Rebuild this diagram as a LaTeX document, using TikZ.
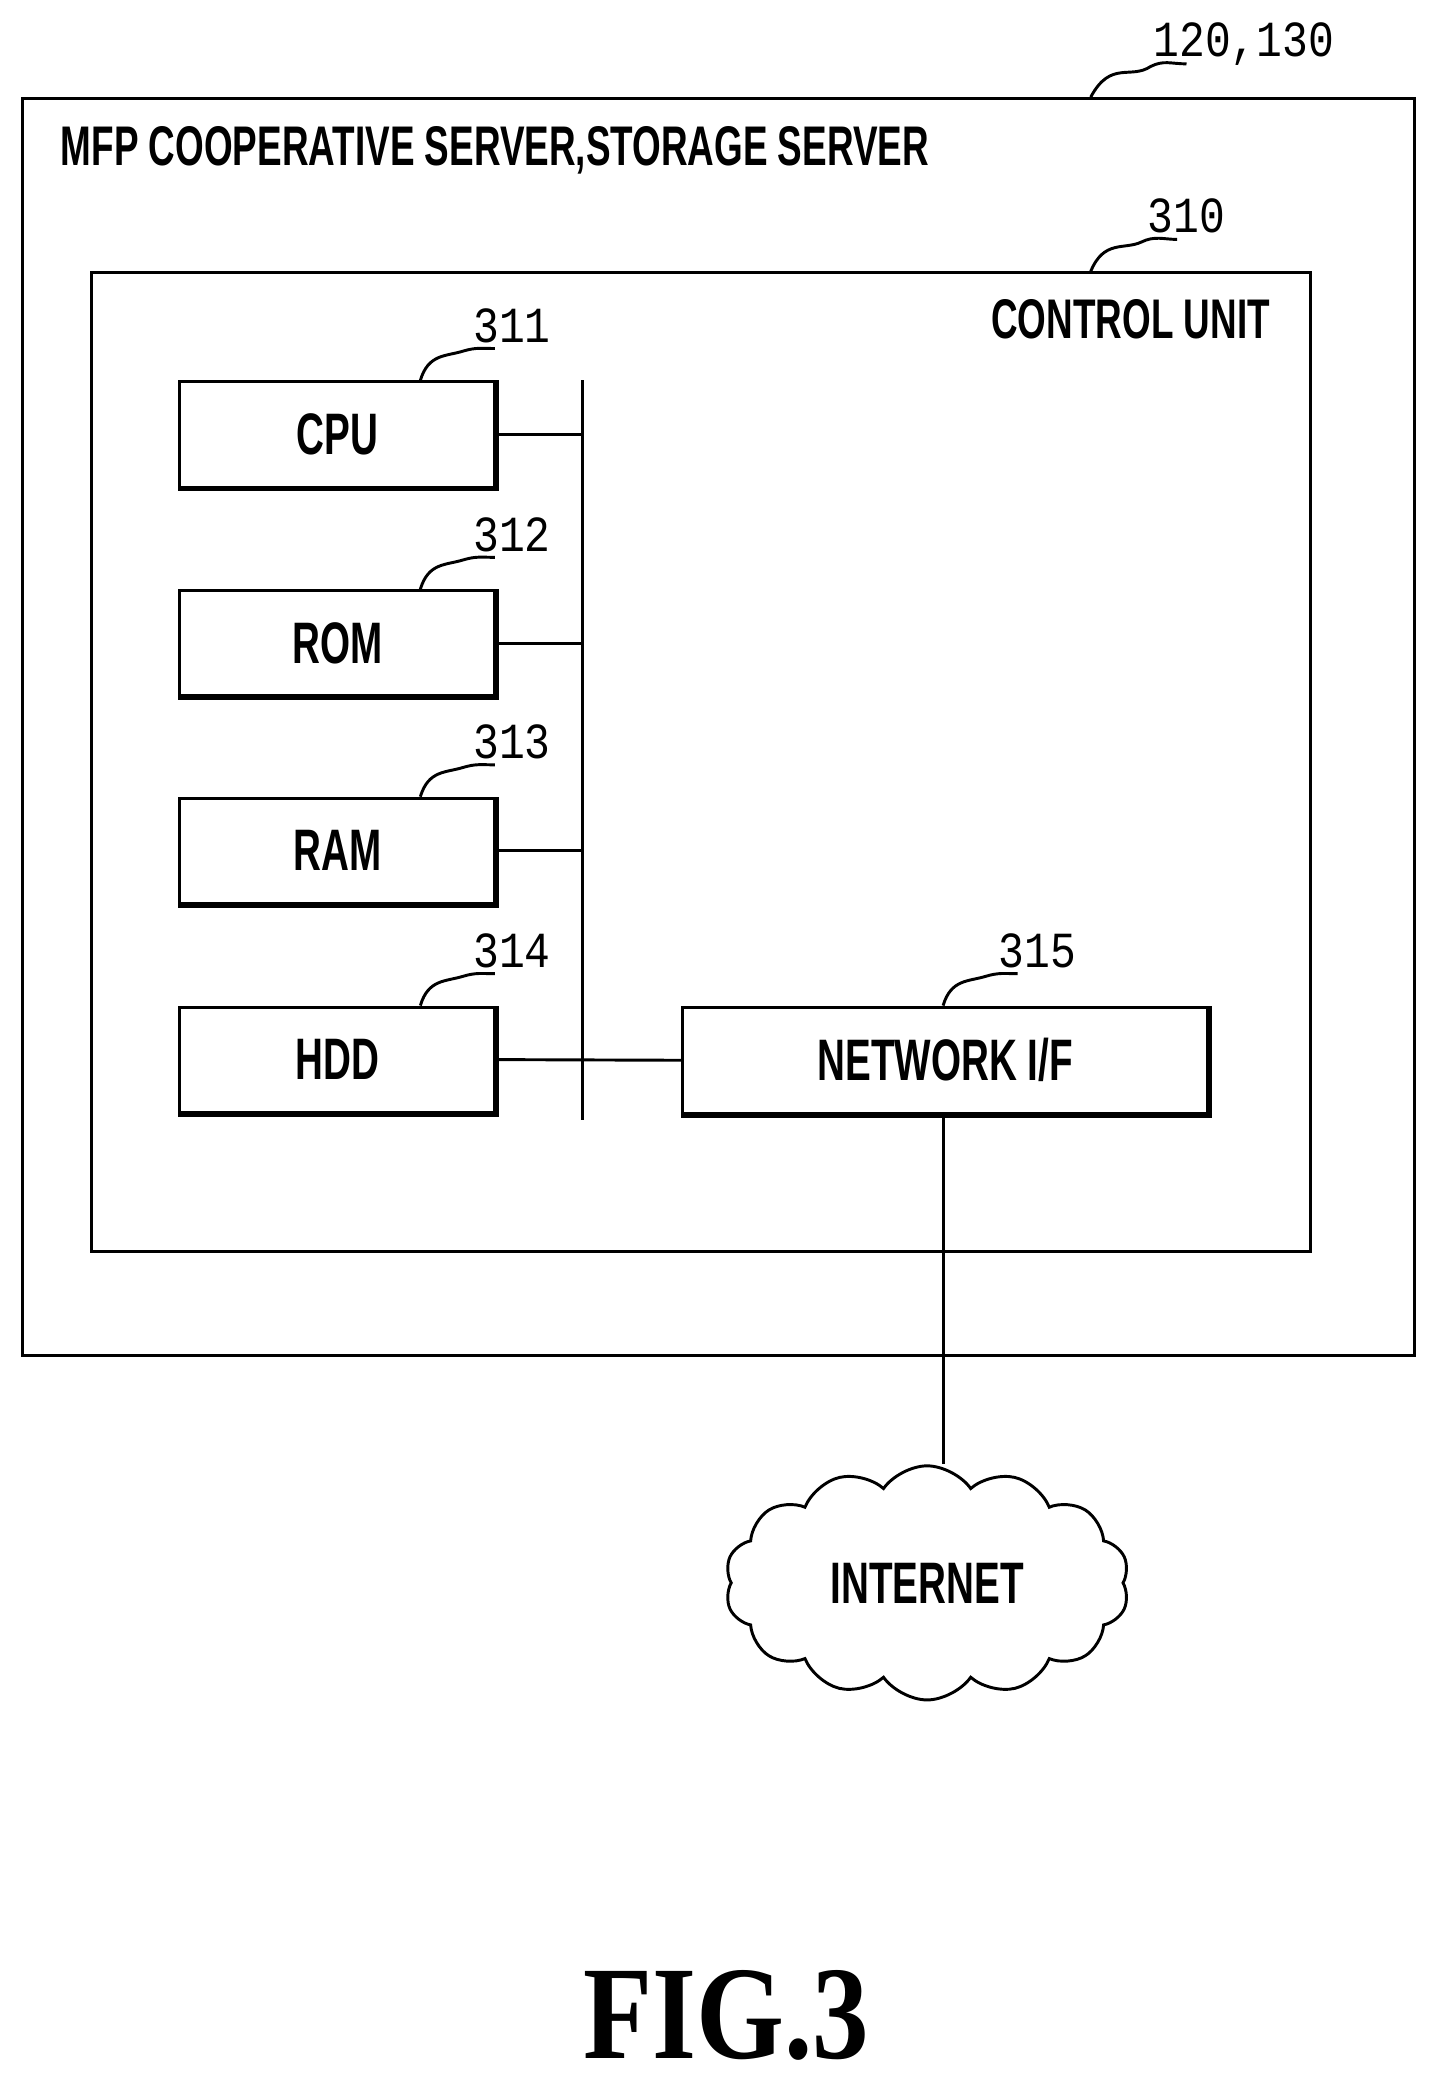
\documentclass[tikz,border=0pt]{standalone}
\usepackage{fontspec}
\setmainfont{Liberation Sans}
\newfontfamily\lab[FakeStretch=0.66]{Liberation Sans}
\newfontfamily\num[FakeStretch=0.85]{Liberation Mono}
\newfontfamily\fig[FakeStretch=0.85]{Liberation Serif}
\usetikzlibrary{shapes.symbols}
\begin{document}
\begin{tikzpicture}[x=0.5pt,y=-0.5pt,line width=1.1pt,
  blk/.style={draw,rectangle,anchor=north west,inner sep=0pt,font=\lab\fontsize{22}{22}\selectfont\bfseries},
  numl/.style={font=\num\fontsize{19}{19}\selectfont},
  ttl/.style={font=\lab\fontsize{21}{21}\selectfont\bfseries}]
\useasboundingbox (0,0) rectangle (1080,1569);
\node[draw,anchor=north west,minimum width=523pt,minimum height=472.5pt] (outer) at (16,73) {};
\node[draw,anchor=north west,minimum width=458pt,minimum height=368pt] (ctrl) at (68,204) {};
\node[ttl,anchor=west] (t1) at (38,113) {MFP COOPERATIVE SERVER,STORAGE SERVER};
\node[ttl] (t2) at (850,240) {CONTROL UNIT};
\node[numl] (n0) at (935,33) {120,130};
\node[numl] (n1) at (892,162) {310};
\draw (820,73) .. controls (835,45) and (850,60) .. (865,50) .. controls (875,45) and (880,48) .. (892,48);
\draw (820,204) .. controls (830,180) and (845,188) .. (858,182) .. controls (868,177) and (875,180) .. (885,180);
\foreach \nm/\txt/\y/\n in {cpu/CPU/286/311,rom/ROM/443/312,ram/RAM/599/313,hdd/HDD/756/314}{
  \node[blk,minimum width=118.5pt,minimum height=39.5pt] (\nm) at (134,\y) {\txt};
  \draw[line width=2.2pt] (\nm.south west)--(\nm.south east)--(\nm.north east);
  \node[numl] (l\nm) at (385,\y-41) {\n};
  \draw (316,\y) .. controls (322,\y-20) and (335,\y-18) .. (348,\y-22) .. controls (358,\y-25) and (362,\y-24) .. (372,\y-24);
}
\node[blk,minimum width=197.5pt,minimum height=40pt] (nif) at (512,756) {NETWORK I/F};
\draw[line width=2.2pt] (nif.south west)--(nif.south east)--(nif.north east);
\node[numl] (l315) at (780,715) {315};
\draw (709,756) .. controls (715,736) and (728,738) .. (741,734) .. controls (751,731) and (755,732) .. (765,732);
\coordinate (bt) at (438,286); \coordinate (bb) at (438,842);
\draw (bt)--(bb);
\draw (cpu.east)--(cpu.east -| bt);
\draw (rom.east)--(rom.east -| bt);
\draw (ram.east)--(ram.east -| bt);
\draw (hdd.east)--(nif.west);
\node[cloud,draw,cloud puffs=14,cloud puff arc=110,aspect=1.7,minimum width=152pt,minimum height=88pt,font=\lab\fontsize{22}{22}\selectfont\bfseries] (net) at (697,1190) {INTERNET};
\draw (nif.south -| 709,0)--(net.north -| 709,0);
\node[font=\fig\fontsize{50}{50}\selectfont\bfseries] (fig) at (546,1515) {FIG.3};
\end{tikzpicture}
\end{document}
